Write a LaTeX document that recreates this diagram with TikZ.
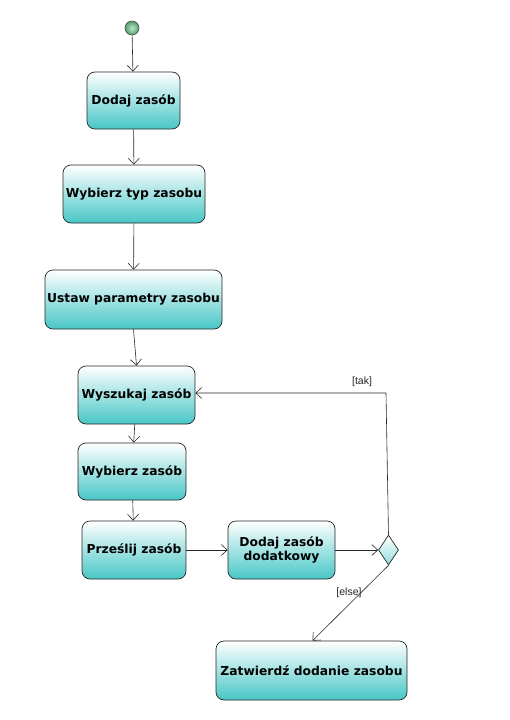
\documentclass[tikz,border=0pt]{standalone}
\usepackage{fontspec}
\setmainfont{DejaVu Sans}
\newfontfamily\lblfont{Liberation Sans}
\usetikzlibrary{arrows.meta,shapes.geometric,shadings}
\definecolor{teal1}{RGB}{72,198,198}
\definecolor{edgec}{RGB}{40,40,40}
\definecolor{ballin}{RGB}{190,230,200}
\definecolor{ballout}{RGB}{80,160,110}
\begin{document}
\begin{tikzpicture}[x=1pt,y=-1pt,
  act/.style={draw=black!85, rounded corners=8pt, top color=white, bottom color=teal1,
    font=\bfseries\fontsize{12.3}{14.5}\selectfont, align=center, inner sep=2pt, line width=0.7pt},
  flow/.style={draw=edgec, line width=0.6pt, -{Straight Barb[length=6pt,width=11pt,line width=0.6pt]}},
  lbl/.style={font=\lblfont\fontsize{10.5}{12}\selectfont, text=black!85, inner sep=0pt}]
\useasboundingbox (0,0) rectangle (510,720);
\fill[white] (0,0) rectangle (510,720);
\node[circle, draw=black!70, line width=0.6pt, inner color=ballin, outer color=ballout, minimum size=14pt, inner sep=0pt] (start) at (132,28) {};
\node[act, minimum width=93pt, minimum height=57pt] (n1) at (133.5,100.5) {Dodaj zasób};
\node[act, minimum width=142pt, minimum height=58pt] (n2) at (134,194) {Wybierz typ zasobu};
\node[act, minimum width=177pt, minimum height=59pt] (n3) at (133.5,299.5) {Ustaw parametry zasobu};
\node[act, minimum width=117pt, minimum height=58pt] (n4) at (136.5,395) {Wyszukaj zasób};
\node[act, minimum width=108pt, minimum height=57pt] (n5) at (132,471.5) {Wybierz zasób};
\node[act, minimum width=104pt, minimum height=58pt] (n6) at (134,550) {Prześlij zasób};
\node[act, minimum width=107pt, minimum height=58pt] (n7) at (281.5,550) {Dodaj zasób\\dodatkowy};
\node[act, minimum width=191pt, minimum height=59pt] (n8) at (311.5,670.5) {Zatwierdź dodanie zasobu};
\node[diamond, draw=black!85, line width=0.7pt, top color=white, bottom color=teal1!60, inner sep=0pt, minimum width=20pt, minimum height=30pt] (dec) at (388.5,550) {};
\coordinate (c1) at (386,393);
\draw[flow] (start) -- (n1);
\draw[flow] (n1) -- (n2);
\draw[flow] (n2) -- (n3);
\draw[flow] (n3.south) -- (n4.north);
\draw[flow] (n4) -- (n5);
\draw[flow] (n5) -- (n6);
\draw[flow] (n6) -- (n7);
\draw[flow] (n7) -- (dec);
\draw[flow] (dec.north) -- (c1) -- (n4.east |- c1);
\draw[flow] (dec.south) -- ([xshift=1pt]n8.north);
\node[lbl] (ltak) at (362,382) {[tak]};
\node[lbl] (lelse) at (349,593) {[else]};
\end{tikzpicture}
\end{document}
